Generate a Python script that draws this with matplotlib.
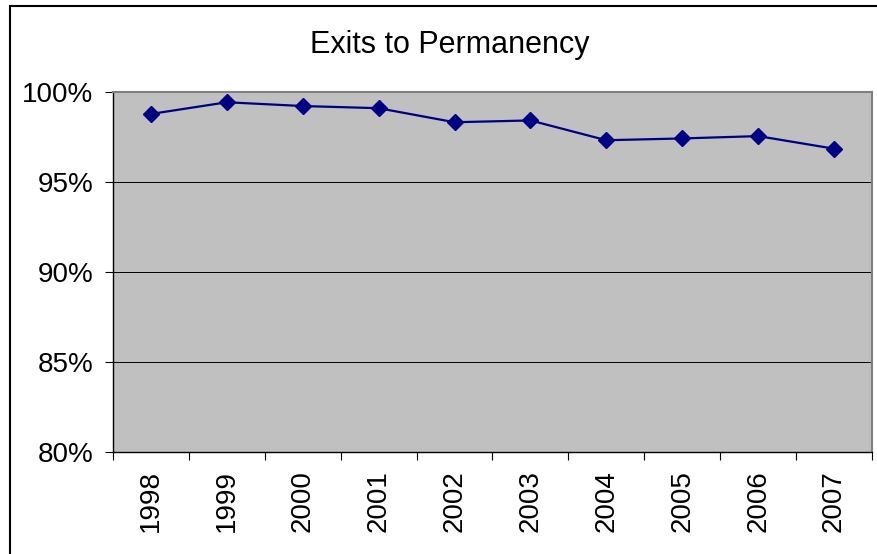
import matplotlib
matplotlib.use("Agg")
import matplotlib.pyplot as plt
from matplotlib.patches import Rectangle
from matplotlib.ticker import FuncFormatter, FixedLocator

years = ["1998", "1999", "2000", "2001", "2002", "2003", "2004", "2005", "2006", "2007"]
exits_pct = [98.78, 99.43, 99.22, 99.10, 98.32, 98.42, 97.32, 97.42, 97.55, 96.85]
y_ticks = [80, 85, 90, 95, 100]

plt.rcParams['font.family'] = ['Liberation Sans', 'DejaVu Sans']

W, H = 878, 554
fig = plt.figure(figsize=(W / 100, H / 100), dpi=100)
ax = fig.add_axes([113 / W, 1 - 452 / H, (872 - 113) / W, (452 - 92) / H])

ax.set_facecolor('#C0C0C0')
x = list(range(len(years)))
ax.plot(x, exits_pct, color='#000080', linewidth=1.6, marker='D', markersize=8,
        markeredgecolor='#000080', markerfacecolor='#000080', zorder=3)

ax.set_xlim(-0.5, len(years) - 0.5)
ax.set_ylim(80, 100)
ax.set_yticks(y_ticks)
ax.yaxis.set_major_formatter(FuncFormatter(lambda v, p: f"{int(v)}%"))
ax.yaxis.grid(True, color='black', linewidth=0.7)
ax.set_axisbelow(True)

ax.set_xticks(x)
ax.set_xticklabels(years, rotation=90)
ax.xaxis.set_minor_locator(FixedLocator([i - 0.5 for i in range(len(years) + 1)]))
ax.tick_params(axis='x', which='major', length=0, pad=13, labelsize=20)
ax.tick_params(axis='x', which='minor', length=6, width=0.8, color='black')
ax.tick_params(axis='y', length=6, width=0.8, pad=8, labelsize=20)

for s in ['top', 'right']:
    ax.spines[s].set_color('#808080')
    ax.spines[s].set_linewidth(1.5)
for s in ['left', 'bottom']:
    ax.spines[s].set_color('black')
    ax.spines[s].set_linewidth(1.0)

fig.text(450 / W, 1 - 45 / H, "Exits to Permanency", ha='center', va='center', fontsize=22)

frame = Rectangle((10 / W, -0.1), 1.2, 1 - 6 / H + 0.1, transform=fig.transFigure,
                  fill=False, edgecolor='black', linewidth=1.5, clip_on=False)
fig.patches.append(frame)

fig.savefig("out.png", dpi=100)
